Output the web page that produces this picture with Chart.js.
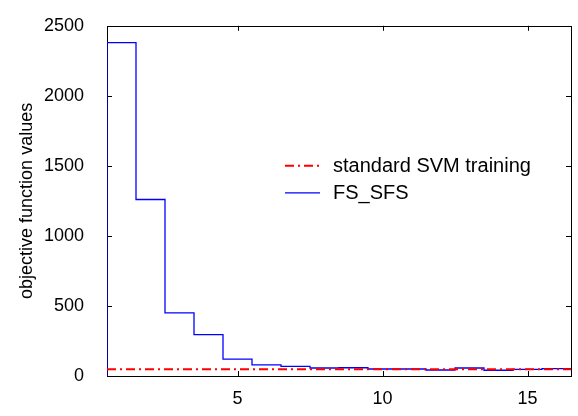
<!DOCTYPE html>
<html>
<head>
<meta charset="utf-8">
<script src="https://cdn.jsdelivr.net/npm/chart.js@4"></script>
<style>
  html, body { margin: 0; padding: 0; background: #fff; }
  #wrap { width: 578px; height: 416px; }
</style>
</head>
<body>
<div id="wrap"><canvas id="chart1" width="578" height="416"></canvas></div>
<script>
// iteration index 1..16, one stair per iteration
const iterations = [1, 2, 3, 4, 5, 6, 7, 8, 9, 10, 11, 12, 13, 14, 15, 16];
const fsSfsValues = [2380, 1260, 450, 296, 121, 80, 68, 57, 59, 50, 50, 43, 57, 41, 48, 52];
const svmValues = [48, 48, 48, 48, 48, 48, 48, 48, 48, 48, 48, 48, 48, 48, 48, 48];
const xTicks = [5, 10, 15];
const yTicks = [0, 500, 1000, 1500, 2000, 2500];

// stairs: each value spans [i - 0.5, i + 0.5]
function stairs(vals, fromZero) {
    let pts = [];
    if (fromZero) pts.push({ x: iterations[0] - 0.5, y: 0 });
    iterations.forEach((it, i) => pts.push({ x: it - 0.5, y: vals[i] }));
    pts.push({ x: iterations[iterations.length - 1] + 0.5, y: vals[vals.length - 1] });
    return pts;
}

const font = "'Liberation Sans', Arial, Helvetica, sans-serif";

// box + inward ticks on all four sides, drawn under the data
const framePlugin = {
    id: 'frame',
    beforeDatasetsDraw(chart) {
        const c = chart.ctx, a = chart.chartArea;
        const xs = chart.scales.x, ys = chart.scales.y;
        const len = 5;
        c.save();
        c.strokeStyle = '#000';
        c.lineWidth = 1;
        c.beginPath();
        xTicks.forEach(v => {
            const px = Math.round(xs.getPixelForValue(v)) + 0.5;
            c.moveTo(px, a.bottom); c.lineTo(px, a.bottom - len);
            c.moveTo(px, a.top); c.lineTo(px, a.top + len);
        });
        yTicks.forEach(v => {
            const py = Math.round(ys.getPixelForValue(v)) + 0.5;
            c.moveTo(a.left, py); c.lineTo(a.left + len, py);
            c.moveTo(a.right, py); c.lineTo(a.right - len, py);
        });
        c.stroke();
        c.strokeRect(Math.round(a.left) + 0.5, Math.round(a.top) + 0.5,
            Math.round(a.right - a.left), Math.round(a.bottom - a.top));
        c.restore();
    }
};

// legend inside the axes, no box
const legendPlugin = {
    id: 'innerLegend',
    afterDraw(chart) {
        const c = chart.ctx, a = chart.chartArea;
        const x0 = a.left + 178, y0 = a.top + 140, row = 27;
        c.save();
        c.font = '20px ' + font;
        c.textBaseline = 'middle';
        c.fillStyle = '#000';
        chart.data.datasets.forEach((ds, i) => {
            const y = y0 + i * row;
            c.strokeStyle = ds.borderColor;
            c.lineWidth = ds.borderWidth;
            c.setLineDash(ds.borderDash || []);
            c.beginPath();
            c.moveTo(x0, y); c.lineTo(x0 + 35, y);
            c.stroke();
            c.setLineDash([]);
            c.fillText(ds.label, x0 + 48, y + 1);
        });
        c.restore();
    }
};

const ctx1 = document.getElementById('chart1').getContext('2d');

let chart1 = new Chart(ctx1, {
    type: 'line',
    data: {
        datasets: [{
            label: 'standard SVM training',
            data: stairs(svmValues, false),
            borderColor: '#ff0000',
            borderWidth: 2,
            borderDash: [9, 4, 2, 4],
            stepped: true,
            pointRadius: 0,
            fill: false
        }, {
            label: 'FS_SFS',
            data: stairs(fsSfsValues, true),
            borderColor: '#0000ff',
            borderWidth: 1.3,
            stepped: true,
            pointRadius: 0,
            fill: false
        }]
    },
    options: {
        responsive: false,
        animation: false,
        layout: { padding: { top: 10, right: 7, left: 0, bottom: 0 } },
        plugins: {
            legend: { display: false },
            tooltip: { enabled: false }
        },
        scales: {
            x: {
                type: 'linear',
                min: 0.5,
                max: 16.5,
                grid: { display: false },
                border: { display: false },
                afterBuildTicks: s => { s.ticks = xTicks.map(v => ({ value: v })); },
                afterFit: s => { s.height = 40; },
                ticks: {
                    color: '#000',
                    padding: 4,
                    maxRotation: 0,
                    callback: v => String(v),
                    font: { family: font, size: 18 }
                }
            },
            y: {
                min: 0,
                max: 2500,
                grid: { display: false },
                border: { display: false },
                afterBuildTicks: s => { s.ticks = yTicks.map(v => ({ value: v })); },
                afterFit: s => { s.width = 107; },
                ticks: {
                    color: '#000',
                    padding: 15,
                    callback: v => String(v),
                    font: { family: font, size: 18 }
                },
                title: {
                    display: true,
                    text: 'objective function values',
                    color: '#000',
                    padding: { top: 16, bottom: 0 },
                    font: { family: font, size: 18 }
                }
            }
        }
    },
    plugins: [framePlugin, legendPlugin]
});
</script>
</body>
</html>
